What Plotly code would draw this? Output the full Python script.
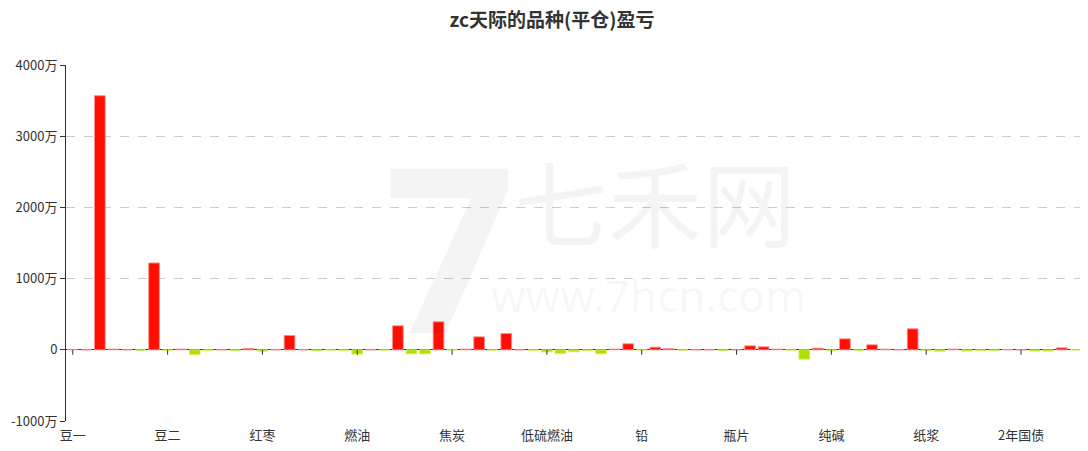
import plotly.graph_objects as go

# 品种 (75 categories, only every 7th label shown on the axis)
varieties = [
    "豆一", "豆粕", "棕榈油", "豆油", "玉米", "玉米淀粉", "鸡蛋",
    "豆二", "苹果", "棉花", "白糖", "菜粕", "菜油", "花生",
    "红枣", "生猪", "螺纹钢", "热卷", "铁矿石", "沥青", "原油",
    "燃油", "橡胶", "20号胶", "焦煤", "锰硅", "硅铁", "不锈钢",
    "焦炭", "甲醇", "PTA", "乙二醇", "聚丙烯", "塑料", "PVC",
    "低硫燃油", "苯乙烯", "液化气", "短纤", "尿素", "玻璃", "铜",
    "铅", "锌", "铝", "镍", "锡", "黄金", "白银",
    "瓶片", "烧碱", "对二甲苯", "纯苯", "碳酸锂", "工业硅", "多晶硅",
    "纯碱", "菜籽", "粳米", "晚籼稻", "早籼稻", "线材", "胶合板",
    "纸浆", "丁二烯橡胶", "集运指数", "氧化铝", "沪深300", "上证50", "中证500",
    "2年国债", "5年国债", "10年国债", "30年国债", "中证1000",
]

# 平仓盈亏, 单位: 万
pnl = [
    6, 0, 3568, 10, 0, -8, 1220,
    -8, 10, -65, -8, 0, -8, 20,
    -20, 0, 201, 0, -15, -4, -8,
    -60, 0, -6, 337, -56, -56, 393,
    -3, 10, 182, -6, 229, 0, -6,
    -30, -50, -28, -10, -56, 10, 84,
    -4, 37, 15, -6, 0, 0, -8,
    0, 56, 42, 10, -6, -131, 23,
    -10, 154, -8, 70, 8, 0, 295,
    -8, -20, 10, -18, -10, -10, 3,
    0, -18, -18, 28, -3,
]

y_ticks = [-1000, 0, 1000, 2000, 3000, 4000]
y_labels = ["-1000万", "0", "1000万", "2000万", "3000万", "4000万"]

colors = ["#ff0f00" if v >= 0 else "#b0e000" for v in pnl]
edges = ["rgba(255,140,140,0.9)" if v >= 0 else "rgba(205,240,90,0.9)" for v in pnl]

fig = go.Figure(go.Bar(
    x=varieties, y=pnl,
    marker=dict(color=colors, line=dict(color=edges, width=1)),
    hovertemplate="%{x}: %{y}万<extra></extra>",
))

shown = varieties[::7]

# small tick marks sitting on the zero line
for name in shown:
    fig.add_shape(type="line", xref="x", yref="y", x0=name, x1=name, y0=0, y1=-70,
                  line=dict(color="#333333", width=1))

# faint watermark
wm = "rgba(0,0,0,0.045)"
fig.add_annotation(text="七禾网", xref="paper", yref="paper", x=0.58, y=0.62,
                   showarrow=False, font=dict(size=94, color=wm, family="Noto Sans CJK SC"))
fig.add_annotation(text="www.7hcn.com", xref="paper", yref="paper", x=0.573, y=0.355,
                   showarrow=False, font=dict(size=44, color=wm, family="Noto Sans"))
fig.add_annotation(text="<b>7</b>", xref="paper", yref="paper", x=0.311, y=0.5,
                   showarrow=False, font=dict(size=230, color=wm, family="Noto Sans"))

# page body has an 8px offset, margins compensate for it
fig.update_layout(
    width=1088, height=451,
    paper_bgcolor="white", plot_bgcolor="white",
    font=dict(family="Noto Sans CJK SC, sans-serif", size=13, color="#333333"),
    title=dict(text="<b>zc天际的品种(平仓)盈亏</b>", x=0.5, xanchor="center", y=0.972, yanchor="middle",
               font=dict(size=19, color="#333333")),
    margin=dict(l=58, r=14, t=57, b=38),
    bargap=0.21,
    showlegend=False,
)
fig.update_xaxes(
    type="category", tickmode="array", tickvals=shown, ticktext=shown,
    showgrid=False, showline=False, ticks="outside", ticklen=2, tickcolor="rgba(0,0,0,0)",
    tickfont=dict(size=13, color="#333333"), range=[-0.5, len(varieties) - 0.5],
    automargin=False,
)
fig.update_yaxes(
    range=[-1000, 4000], tickmode="array", tickvals=y_ticks, ticktext=y_labels,
    showgrid=True, gridcolor="#cccccc", griddash="dash", gridwidth=1,
    zeroline=True, zerolinecolor="#333333", zerolinewidth=1,
    showline=True, linecolor="#333333", linewidth=1,
    ticks="outside", ticklen=5, tickcolor="#333333",
    tickfont=dict(size=13, color="#333333"), automargin=False,
)

fig.write_html("out.html")
